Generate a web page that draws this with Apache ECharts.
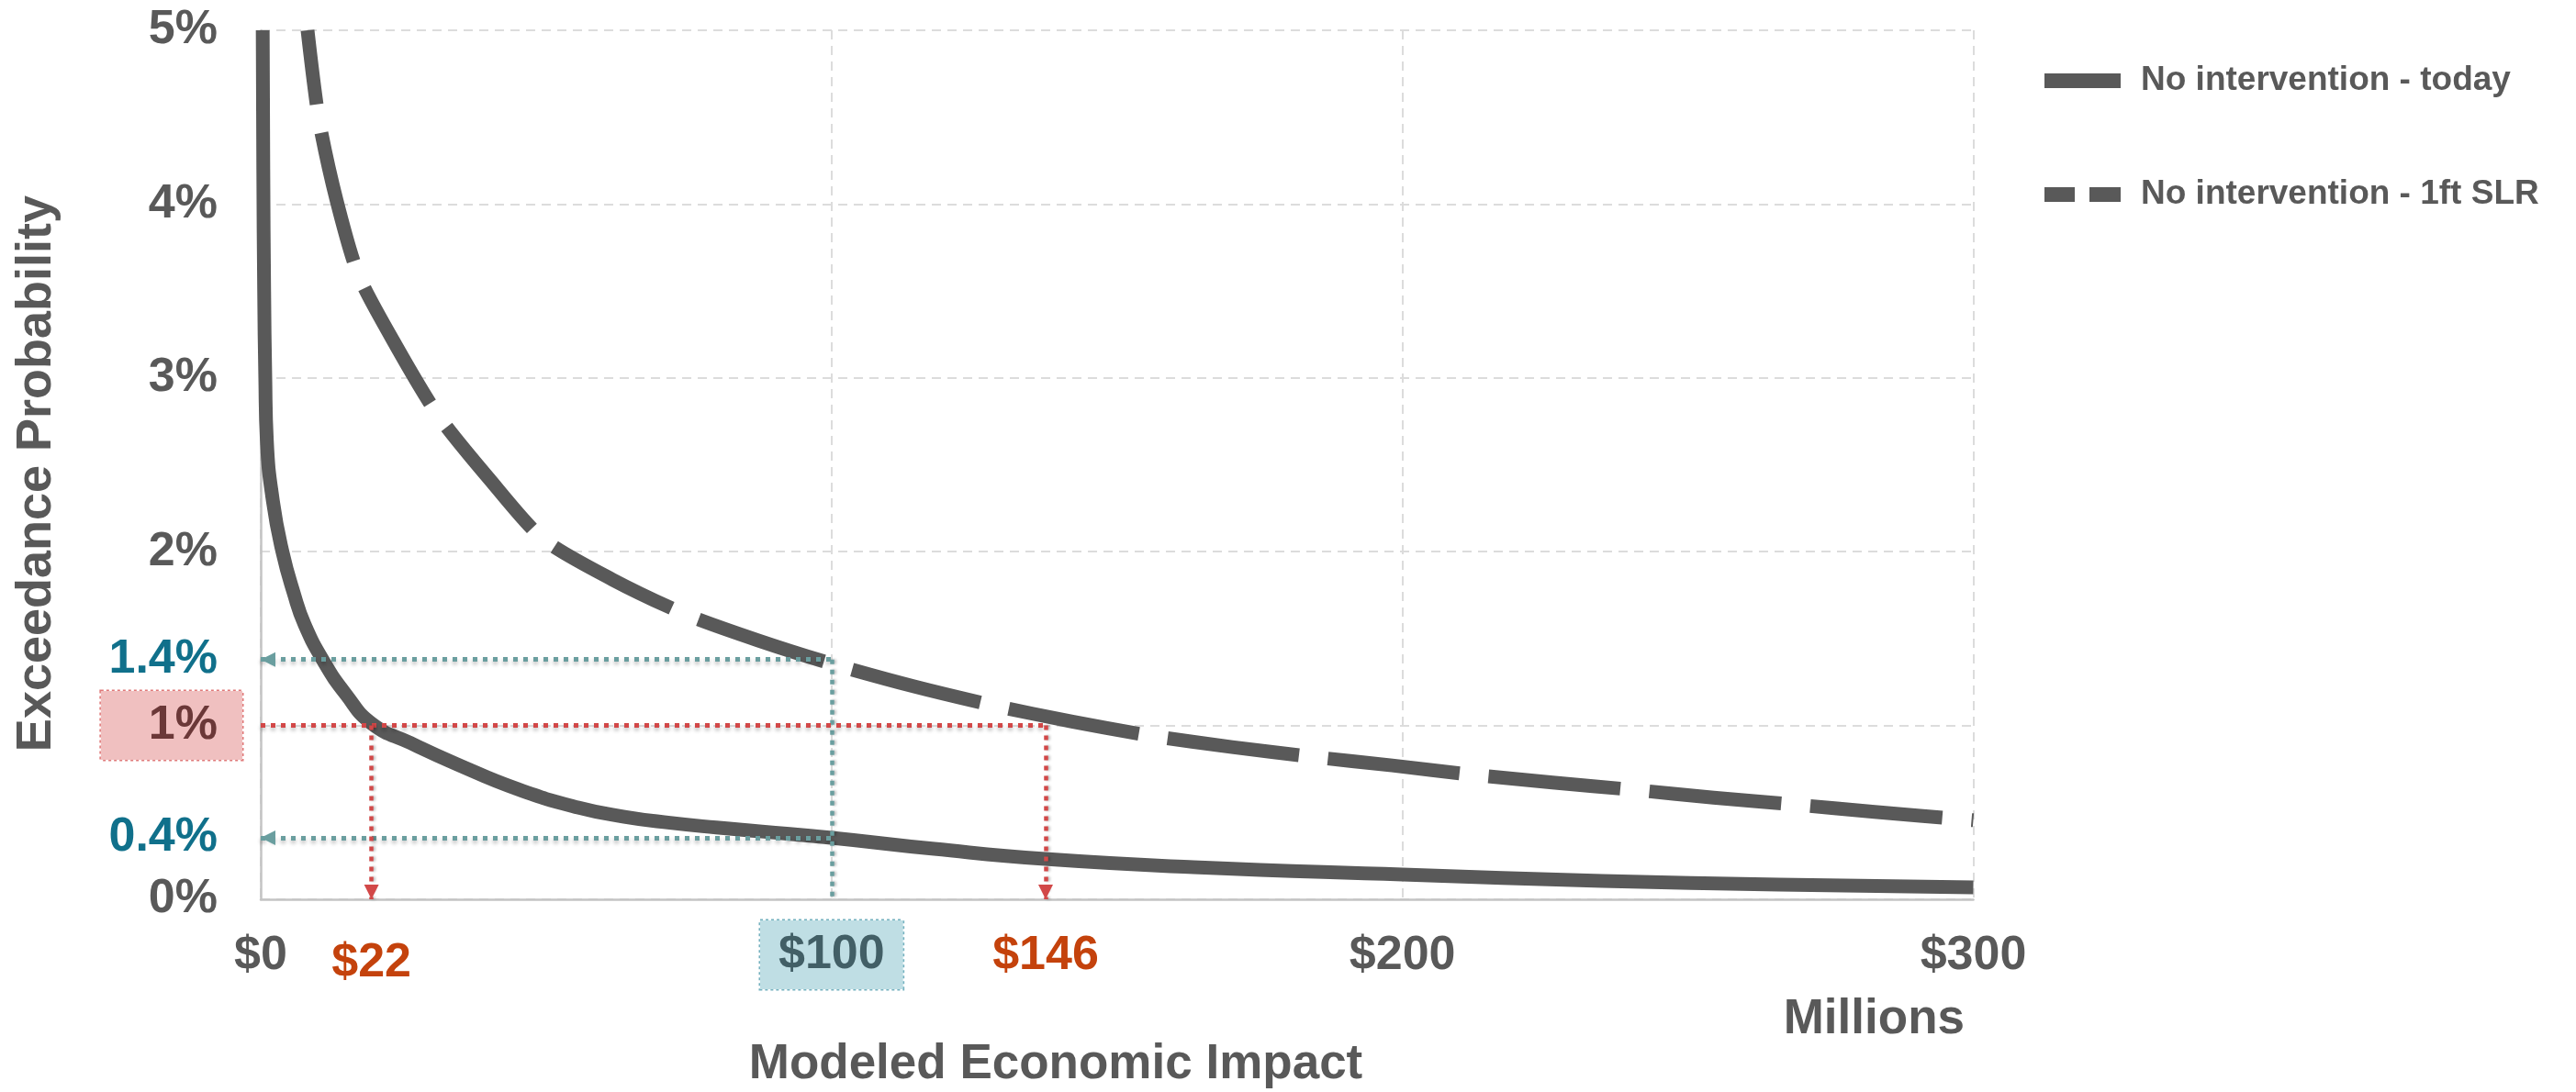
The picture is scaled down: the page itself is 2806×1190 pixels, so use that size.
<!DOCTYPE html>
<html>
<head>
<meta charset="utf-8">
<script src="https://cdn.jsdelivr.net/npm/echarts@6/dist/echarts.min.js"></script>
<style>
html,body{margin:0;padding:0;background:#ffffff;}
#c{width:2806px;height:1190px;}
</style>
</head>
<body>
<div id="c"></div>
<script>
// ---------- data ----------
const xTicks = [0, 100, 200, 300];              // $ millions
const yTicks = [0, 1, 2, 3, 4, 5];              // exceedance probability, %
const seriesNames = ['No intervention - today', 'No intervention - 1ft SLR'];

// [modeled economic impact ($M), exceedance probability (%)]
const todayCurve = [
  [0.35, 5.0], [0.45, 4.2], [0.6, 3.5], [0.8, 3.0], [1.07, 2.64], [2.14, 2.29],
  [3.8, 2.0], [5.8, 1.76], [7.7, 1.58], [11.0, 1.37], [14.9, 1.18], [19.5, 1.01],
  [26.2, 0.90], [34.2, 0.78], [45, 0.634], [55.6, 0.528], [63.7, 0.475], [71.7, 0.44],
  [79.8, 0.413], [87.8, 0.39], [100, 0.354], [118, 0.29], [137.4, 0.232], [163.4, 0.185],
  [200, 0.143], [235, 0.106], [266, 0.084], [300, 0.069]
];
const slrCurve = [
  [8.2, 5.0], [10.2, 4.485], [13.3, 4.02], [17.15, 3.59], [23.8, 3.18], [31.05, 2.785],
  [40, 2.42], [49.4, 2.075], [61.6, 1.84], [74.4, 1.64], [87.1, 1.49], [100.15, 1.354],
  [114.45, 1.225], [128.3, 1.116], [142.15, 1.022], [156.15, 0.94], [170.15, 0.876],
  [184.2, 0.82], [198.2, 0.77], [212.15, 0.717], [226.3, 0.672], [240.4, 0.63],
  [254.5, 0.585], [268.6, 0.545], [282.7, 0.503], [300, 0.455]
];

// annotations
const rpProb = 1;                       // 1% annual chance (100-yr)
const rpCross = [19.4, 137.5];          // where curves cross 1%
const rpLabels = ['$22', '$146'];
const rpLabelGap = [44, 36];
const rpProbLabel = '1%';
const impactValue = 100;                // $100M event
const impactProb = [1.38, 0.354];       // probability of $100M (1ft SLR, today)
const impactLabels = ['1.4%', '0.4%'];
const impactValueLabel = '$100';

// ---------- styling ----------
const FONT = "'Liberation Sans', Arial, Helvetica, sans-serif";
const GREY = '#595959';
const RED = '#d24848';
const TEAL = '#6a9e9f';
const dotted = (color) => ({
  color: color, width: 5, type: [5, 6], cap: 'butt', opacity: 1,
  shadowBlur: 4, shadowColor: 'rgba(0,0,0,0.28)', shadowOffsetY: 3
});
const bigBold = { fontSize: 52, fontWeight: 'bold', fontFamily: FONT, lineHeight: 52 };

const chart = echarts.init(document.getElementById('c'), null, { renderer: 'canvas', width: 2806, height: 1190 });

const option = {
  animation: false,
  backgroundColor: '#ffffff',
  grid: { left: 284, right: 656.5, top: 33, bottom: 210, containLabel: false, outerBoundsMode: 'none' },
  legend: {
    orient: 'vertical', left: 2227, top: 68, padding: 0,
    itemWidth: 83, itemHeight: 16, itemGap: 84,
    itemStyle: { borderWidth: 0 },
    textStyle: { fontSize: 37, fontWeight: 'bold', color: GREY, fontFamily: FONT, lineHeight: 40, padding: [0, 0, 0, 17] },
    data: [
      { name: seriesNames[0], icon: 'path://M0 0H83V16H0Z' },
      { name: seriesNames[1], icon: 'path://M0 0H33V16H0ZM49 0H83V16H49Z' }
    ]
  },
  xAxis: {
    type: 'value', min: xTicks[0], max: xTicks[xTicks.length - 1], interval: xTicks[1] - xTicks[0],
    axisLine: { show: true, onZero: false, lineStyle: { color: '#c4c4c4', width: 2.5 } },
    axisTick: { show: false },
    splitLine: { show: true, lineStyle: { color: '#dcdcdc', width: 2, type: [10, 7] } },
    axisLabel: Object.assign({ margin: 36, color: GREY,
      formatter: v => (v === impactValue ? '' : '$' + v) }, bigBold)
  },
  yAxis: {
    type: 'value', min: yTicks[0], max: yTicks[yTicks.length - 1], interval: yTicks[1] - yTicks[0],
    axisLine: { show: true, onZero: false, lineStyle: { color: '#c4c4c4', width: 2.5 } },
    axisTick: { show: false },
    splitLine: { show: true, lineStyle: { color: '#dcdcdc', width: 2, type: [10, 7] } },
    axisLabel: Object.assign({ margin: 47, color: GREY,
      formatter: v => (v === rpProb ? '' : v + '%') }, bigBold)
  },
  graphic: [
    { type: 'text', x: 40, y: 516, rotation: Math.PI / 2,
      style: { text: 'Exceedance Probability', align: 'center', verticalAlign: 'middle',
               fontSize: 54, fontWeight: 'bold', fontFamily: FONT, fill: GREY } },
    { type: 'text', x: 1150, y: 1160,
      style: { text: 'Modeled Economic Impact', align: 'center', verticalAlign: 'middle',
               fontSize: 53, fontWeight: 'bold', fontFamily: FONT, fill: GREY } },
    { type: 'text', x: 2140, y: 1111,
      style: { text: 'Millions', align: 'right', verticalAlign: 'middle',
               fontSize: 53, fontWeight: 'bold', fontFamily: FONT, fill: GREY } }
  ],
  series: [
    {
      name: seriesNames[0], type: 'line', data: todayCurve,
      showSymbol: false, symbol: 'none', smooth: 0.5, z: 2,
      itemStyle: { color: GREY },
      lineStyle: { color: GREY, width: 15, cap: 'butt', join: 'round' },
      emphasis: { disabled: true }
    },
    {
      name: seriesNames[1], type: 'line', data: slrCurve,
      showSymbol: false, symbol: 'none', smooth: 0.25, z: 2,
      itemStyle: { color: GREY },
      lineStyle: { color: GREY, width: 15, cap: 'butt', join: 'round', type: [144, 32], dashOffset: 63 },
      emphasis: { disabled: true }
    },
    // teal: probability of a $100M event (arrows to the y axis)
    {
      type: 'line', data: [], z: 5, silent: true,
      markLine: {
        silent: true, animation: false,
        symbol: ['triangle', 'none'], symbolSize: 16, symbolOffset: [[0, 8], [0, 8]],
        lineStyle: dotted(TEAL),
        label: Object.assign({ show: true, position: 'start', distance: 47, color: '#10708b', formatter: '{b}' }, bigBold),
        emphasis: { disabled: true },
        data: impactProb.map((p, i) => [
          { name: impactLabels[i], coord: [0, p] },
          { name: impactLabels[i], coord: [impactValue, p] }
        ])
      }
    },
    // teal vertical at $100
    {
      type: 'line', data: [], z: 5, silent: true,
      markLine: {
        silent: true, animation: false, symbol: ['none', 'none'],
        lineStyle: Object.assign(dotted(TEAL), { width: 4.5, shadowOffsetY: 0, shadowOffsetX: 2, shadowBlur: 3 }),
        label: Object.assign({ show: true, position: 'end', distance: 23, color: '#425f66',
          backgroundColor: '#bfdee4', borderColor: '#74b1bf', borderWidth: 1.5, borderType: 'dotted',
          padding: [12, 20, 11, 20], formatter: '{b}' }, bigBold),
        emphasis: { disabled: true },
        data: [[
          { name: impactValueLabel, coord: [impactValue, impactProb[0]] },
          { name: impactValueLabel, coord: [impactValue, 0] }
        ]]
      }
    },
    // red horizontal at 1%
    {
      type: 'line', data: [], z: 5, silent: true,
      markLine: {
        silent: true, animation: false, symbol: ['none', 'none'],
        lineStyle: dotted(RED),
        label: Object.assign({ show: true, position: 'start', distance: 20, color: '#6b3838',
          backgroundColor: '#f0c0c0', borderColor: '#e07a7a', borderWidth: 1.5, borderType: 'dotted',
          padding: [12, 27, 11, 52], formatter: '{b}' }, bigBold),
        emphasis: { disabled: true },
        data: [[
          { name: rpProbLabel, coord: [0, rpProb] },
          { name: rpProbLabel, coord: [rpCross[1], rpProb] }
        ]]
      }
    },
    // red arrows down to the x axis
    {
      type: 'line', data: [], z: 5, silent: true,
      markLine: {
        silent: true, animation: false,
        symbol: ['none', 'triangle'], symbolSize: 16, symbolOffset: [[0, 8], [0, 8]],
        lineStyle: Object.assign(dotted(RED), { width: 4.5, shadowOffsetY: 0, shadowOffsetX: 2, shadowBlur: 3 }),
        label: Object.assign({ show: true, position: 'end', color: '#c4420c', formatter: '{b}' }, bigBold),
        emphasis: { disabled: true },
        data: rpCross.map((x, i) => [
          { name: rpLabels[i], coord: [x, rpProb], label: { distance: rpLabelGap[i] } },
          { name: rpLabels[i], coord: [x, 0], label: { distance: rpLabelGap[i] } }
        ])
      }
    }
  ]
};
chart.setOption(option);
</script>
</body>
</html>
